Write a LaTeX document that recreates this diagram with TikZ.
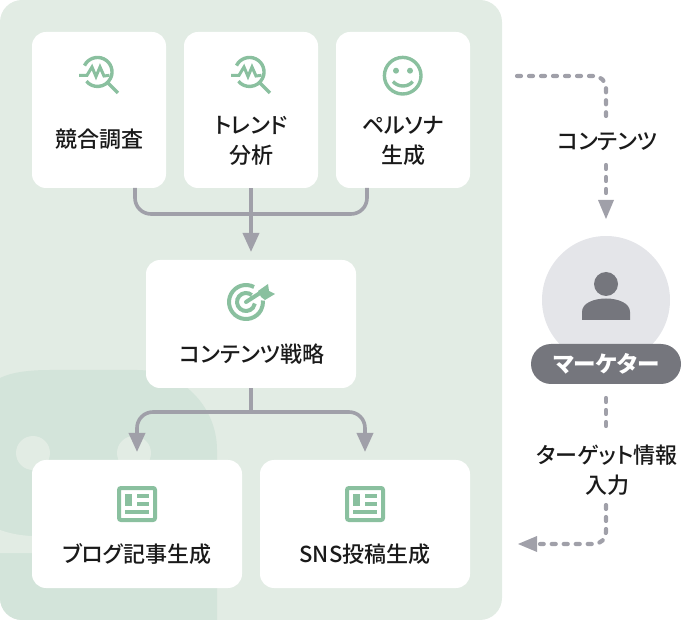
\documentclass[tikz,border=0pt]{standalone}
\usepackage{fontspec}
\setmainfont[RawFeature=+palt]{Noto Sans CJK JP}
\newfontfamily\medf[RawFeature=+palt]{Noto Sans CJK JP Medium}
\usetikzlibrary{arrows.meta}
\definecolor{bgg}{HTML}{E2ECE4}
\definecolor{decog}{HTML}{D3E4DA}
\definecolor{icong}{HTML}{8AC09F}
\definecolor{linegray}{HTML}{A0A0A9}
\definecolor{darkgray}{HTML}{75767D}
\definecolor{lightgray}{HTML}{E4E5E9}
\definecolor{txt}{HTML}{1A1A1A}
\tikzset{
 x=1pt,y=-1pt,
 card/.style={fill=white,rounded corners=14pt,draw=none},
 lbl/.style={font=\medf\fontsize{22}{30}\selectfont,text=txt,align=center,inner sep=0pt},
 flow/.style={draw=linegray,line width=3.6pt,rounded corners=16pt},
 tip/.style={-{Triangle[length=19pt,width=16pt,fill=linegray]}},
 dot/.style={draw=linegray,line width=4.2pt,line cap=round,dash pattern=on 4pt off 8pt,rounded corners=12pt},
 ic/.style={draw=icong,line width=3.4pt},
}
\newcommand{\lens}[2]{%
 \begin{scope}[shift={(#1,#2)}]
  \draw[ic] (-13,-6.4) arc[start angle=206,end angle=500,radius=14.5];
  \draw[ic,line cap=butt] (10.5,11) -- (20.5,21);
  \draw[ic,line width=3pt,line join=miter] (-18.5,3.3) -- (-10.5,3.3) -- (-5.5,-5) -- (-1.5,4.5) -- (2.5,-5) -- (6.5,4) -- (12,3.3);
 \end{scope}}
\newcommand{\news}[2]{%
 \begin{scope}[shift={(#1,#2)}]
  \draw[ic,line width=4pt,rounded corners=2pt] (-18,-16) rectangle (18,16);
  \fill[icong] (-12,-10) rectangle (-5,2);
  \fill[icong] (0,-10) rectangle (12,-6);
  \fill[icong] (0,-2) rectangle (12,2);
  \fill[icong] (-12,6) rectangle (12,10);
 \end{scope}}
\begin{document}
\begin{tikzpicture}
\useasboundingbox (0,0) rectangle (686,620);
\path[fill=bgg,rounded corners=22pt] (0,0) rectangle (502,620);
\begin{scope}
 \clip[rounded corners=22pt] (0,0) rectangle (502,620);
 \fill[decog] (0,378) .. controls (12,372) and (30,370) .. (50,370) -- (137,370) .. controls (181,370) and (217,406) .. (217,450) -- (217,620) -- (0,620) -- cycle;
 \fill[bgg] (0,530) .. controls (10,533.5) and (20,535.5) .. (32,536) -- (40,536) -- (40,553) -- (0,553) -- cycle;
 \fill[bgg] (33,453) circle[radius=17];
 \fill[bgg] (134,453) circle[radius=17];
\end{scope}
\node[card,minimum width=134pt,minimum height=156pt,inner sep=0pt] (c1) at (99,110) {};
\node[card,minimum width=134pt,minimum height=156pt,inner sep=0pt] (c2) at (251,110) {};
\node[card,minimum width=134pt,minimum height=156pt,inner sep=0pt] (c3) at (403,110) {};
\node[card,minimum width=210pt,minimum height=128pt,inner sep=0pt] (c4) at (251,324) {};
\node[card,minimum width=210pt,minimum height=128pt,inner sep=0pt] (c5) at (137,524) {};
\node[card,minimum width=210pt,minimum height=128pt,inner sep=0pt] (c6) at (365,524) {};
\coordinate (j2) at (251,412);
\coordinate (a1) at (251,252);
\coordinate (a2) at (137,452);
\coordinate (a3) at (365,452);
\draw[flow] (135,188) -- (135,214) -- (367,214) -- (367,188);
\draw[flow,tip,rounded corners=0pt] (c2.south) -- (a1);
\draw[flow,rounded corners=0pt] (c4.south) -- (j2);
\draw[flow,tip] (j2) -| (a2);
\draw[flow,tip] (j2) -| (a3);
\lens{97.5}{72}
\lens{249.5}{72}
\draw[ic] (402.7,75.7) circle[radius=18.3];
\fill[icong] (396,70.7) circle[radius=3];
\fill[icong] (410,70.7) circle[radius=3];
\draw[ic,line cap=butt] (393,81.5) .. controls (398,87.5) and (408,87.5) .. (412.7,81.5);
\begin{scope}[shift={(246,302)}]
 \draw[ic,line width=4pt] (8,-15) arc[start angle=-62,end angle=-365,radius=17];
 \draw[ic,line width=4pt] (5.8,-6.9) arc[start angle=-50,end angle=-350,radius=9];
 \draw[ic,line width=4pt,line cap=round] (0,0) -- (14,-9);
 \fill[icong] (12,-11) -- (22,-18) -- (23,-11) -- (29,-8) -- (19,-2) -- (15,-5) -- cycle;
\end{scope}
\news{137}{504}
\news{365}{504}
\node[lbl] (t1) at (99.5,139) {競合調査};
\node[lbl] (t2) at (251,141) {トレンド\\分析};
\node[lbl] (t3) at (403,141) {ペルソナ\\生成};
\node[lbl] (t4) at (252,354) {コンテンツ戦略};
\node[lbl] (t5) at (137,554) {ブログ記事生成};
\node[lbl] (t6) at (365,554) {SNS投稿生成};
\node[circle,fill=lightgray,minimum size=128pt,inner sep=0pt] (m) at (606,300) {};
\fill[darkgray] (606,284) circle[radius=12];
\fill[darkgray] (582,320) -- (582,312) .. controls (582,303) and (594,298.5) .. (606,298.5) .. controls (618,298.5) and (630,303) .. (630,312) -- (630,320) -- cycle;
\node[fill=darkgray,rounded corners=20pt,minimum width=150pt,minimum height=40pt,inner sep=0pt,text=white,font=\bfseries\fontsize{22.5}{26}\selectfont] (mk) at (606,364) {\hspace{1pt}マーケター};
\coordinate (d0) at (517,76);
\coordinate (d1) at (606,76);
\coordinate (d3) at (606,116);
\coordinate (d5) at (606,398);
\coordinate (d6) at (606,432);
\coordinate (d8) at (606,544);
\draw[dot] (d0) -- (d1) -- (d3);
\draw[dot] (606,165) -- (606,196);
\fill[linegray] (598,200) -- (614,200) -- (606,219) -- cycle;
\draw[dot] (d5) -- (d6);
\draw[dot] (606,505) -- (d8) -- (540,544);
\fill[linegray] (537,536) -- (537,552) -- (518,544) -- cycle;
\node[lbl] (l1) at (607.5,142) {コンテンツ};
\node[lbl] (l2) at (607,470) {ターゲット情報\\入力};
\end{tikzpicture}
\end{document}
